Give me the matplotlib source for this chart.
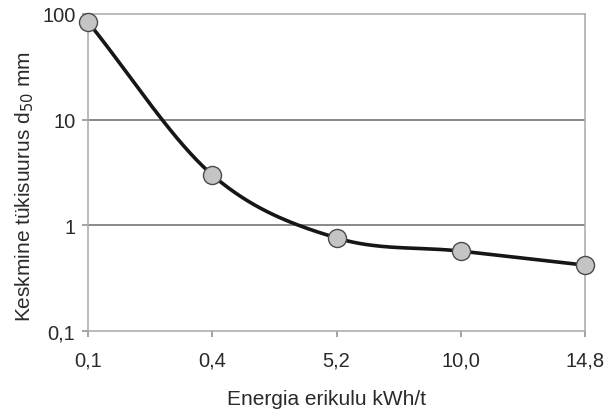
import numpy as np
import matplotlib
matplotlib.use("Agg")
import matplotlib.pyplot as plt
from matplotlib.ticker import FixedLocator, FixedFormatter, NullLocator

plt.rcParams['font.family'] = ['Liberation Sans', 'DejaVu Sans']

# energia erikulu (kategooriad) ja keskmine tükisuurus d50
energia = ["0,1", "0,4", "5,2", "10,0", "14,8"]
d50 = [84, 3.0, 0.76, 0.57, 0.42]
y_ticks = [0.1, 1, 10, 100]
y_tick_labels = ["0,1", "1", "10", "100"]


def smooth(xs, ys, n=40):
    # Catmull-Rom kõver log-skaalas, nagu Exceli silutud joon
    xs = np.asarray(xs, float)
    ly = np.log10(ys)
    px = np.concatenate([[2 * xs[0] - xs[1]], xs, [2 * xs[-1] - xs[-2]]])
    py = np.concatenate([[2 * ly[0] - ly[1]], ly, [2 * ly[-1] - ly[-2]]])
    out_x, out_y = [], []
    for i in range(1, len(px) - 2):
        t = np.linspace(0, 1, n)
        for arr, out in ((px, out_x), (py, out_y)):
            p0, p1, p2, p3 = arr[i - 1:i + 3]
            out.extend(0.5 * ((2 * p1) + (-p0 + p2) * t
                              + (2 * p0 - 5 * p1 + 4 * p2 - p3) * t ** 2
                              + (-p0 + 3 * p1 - 3 * p2 + p3) * t ** 3))
    return np.array(out_x), 10 ** np.array(out_y)


x = np.arange(len(energia))
sx, sy = smooth(x, d50)

fig = plt.figure(figsize=(6.11, 4.10), dpi=100)
ax = fig.add_axes([88 / 611, 1 - 332 / 410, 497 / 611, 317 / 410])

ax.set_yscale('log')
ax.set_ylim(0.1, 100)
ax.set_xlim(x[0], x[-1])

for v in [1, 10]:
    ax.axhline(v, color='#6a6a6a', lw=1.1, zorder=1)

ax.plot(sx, sy, color='#161616', lw=2.6, zorder=3, solid_capstyle='round')
ax.plot(x, d50, 'o', ms=13, mfc='#c4c4c4', mec='#4a4a4a', mew=1.0,
        zorder=4, clip_on=False)

for s in ax.spines.values():
    s.set_color('#a8a8a8')
    s.set_linewidth(1.1)

ax.yaxis.set_major_locator(FixedLocator(y_ticks))
ax.yaxis.set_major_formatter(FixedFormatter(y_tick_labels))
ax.yaxis.set_minor_locator(NullLocator())
ax.set_xticks(x)
ax.set_xticklabels(energia)
ax.tick_params(axis='both', direction='out', length=4, width=1.1,
               color='#8a8a8a', labelsize=14.5, labelcolor='#2a2a2a')
ax.tick_params(axis='x', pad=10)
ax.tick_params(axis='y', pad=5)

ax.set_xlabel("Energia erikulu kWh/t", fontsize=15, color='#2a2a2a')
ax.set_ylabel("Keskmine tükisuurus d$_{50}$ mm", fontsize=15, color='#2a2a2a')
ax.xaxis.set_label_coords(0.479, -0.184)
ax.yaxis.set_label_coords(-0.104, 0.46)

fig.savefig("out.png", dpi=100)
